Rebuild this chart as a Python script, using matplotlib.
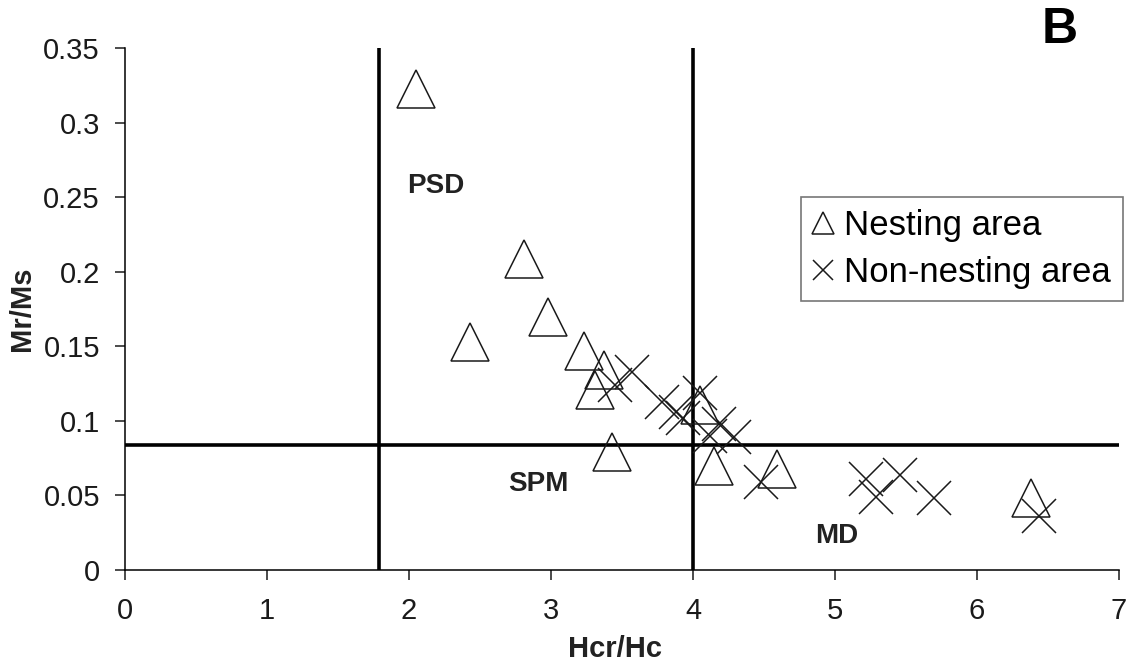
import matplotlib
matplotlib.use("Agg")
import matplotlib.pyplot as plt

# ---- data ----
nest_x = [2.05, 2.81, 2.98, 2.43, 3.23, 3.37, 3.31, 3.43, 4.05, 4.15, 4.59, 6.38]
nest_y = [0.323, 0.209, 0.170, 0.153, 0.147, 0.134, 0.121, 0.079, 0.111, 0.070, 0.068, 0.048]

non_x = [3.45, 3.57, 3.78, 3.88, 3.93, 4.05, 4.12, 4.18, 4.29, 4.48, 5.22, 5.29, 5.46, 5.70, 6.44]
non_y = [0.124, 0.133, 0.113, 0.106, 0.102, 0.119, 0.090, 0.098, 0.089, 0.059, 0.061, 0.049, 0.064, 0.048, 0.036]

psd_limit_x = 1.79
md_limit_x = 4.0
mrms_limit_y = 0.084

x_ticks = [0, 1, 2, 3, 4, 5, 6, 7]
y_ticks = [0, 0.05, 0.1, 0.15, 0.2, 0.25, 0.3, 0.35]
y_tick_labels = ["0", "0.05", "0.1", "0.15", "0.2", "0.25", "0.3", "0.35"]

region_labels = ["PSD", "SPM", "MD"]
region_x = [2.19, 2.91, 5.01]
region_y = [0.258, 0.058, 0.023]

plt.rcParams['font.family'] = ['Liberation Sans', 'DejaVu Sans']

fig = plt.figure(figsize=(11.31, 6.64), dpi=100)
ax = fig.add_axes([0.1105, 0.1416, 0.8789, 0.7854])

ax.set_xlim(0, 7)
ax.set_ylim(0, 0.35)

# divider lines
ax.axvline(psd_limit_x, color='black', lw=2.6, zorder=1)
ax.axvline(md_limit_x, color='black', lw=2.6, zorder=1)
ax.axhline(mrms_limit_y, color='black', lw=2.6, zorder=1)

ax.plot(nest_x, nest_y, linestyle='none', marker='^', markersize=27,
        markerfacecolor='none', markeredgecolor='#1a1a1a', markeredgewidth=1.1,
        label='Nesting area', zorder=3)
ax.plot(non_x, non_y, linestyle='none', marker='x', markersize=24,
        markeredgecolor='#1a1a1a', markeredgewidth=1.1,
        label='Non-nesting area', zorder=3)

for lab, lx, ly in zip(region_labels, region_x, region_y):
    ax.text(lx, ly, lab, ha='center', va='center', fontsize=20,
            fontweight='bold', color='#222222')

ax.set_xticks(x_ticks)
ax.set_xticklabels([str(t) for t in x_ticks])
ax.set_yticks(y_ticks)
ax.set_yticklabels(y_tick_labels)
ax.tick_params(axis='both', direction='out', length=7.5, width=1.1,
               labelsize=21, colors='#1a1a1a')
ax.tick_params(axis='y', pad=10.5)
ax.tick_params(axis='x', pad=12)

for s in ['top', 'right']:
    ax.spines[s].set_visible(False)
for s in ['left', 'bottom']:
    ax.spines[s].set_linewidth(1.1)

ax.set_xlabel('Hcr/Hc', fontsize=21, fontweight='bold', color='#222222')
ax.xaxis.set_label_coords(0.493, -0.125)
ax.set_ylabel('Mr/Ms', fontsize=21, fontweight='bold', color='#222222')
ax.yaxis.set_label_coords(-0.09, 0.5)

leg = ax.legend(loc='upper left', bbox_to_anchor=(0.680, 0.715),
                fontsize=25, frameon=True, fancybox=False, markerscale=0.6,
                handlelength=0.6, handletextpad=0.3, borderpad=0.35,
                labelspacing=0.4, borderaxespad=0)
leg.get_frame().set_edgecolor('#555555')
leg.get_frame().set_linewidth(1.2)

fig.text(0.937, 0.955, 'B', fontsize=36, fontweight='bold', ha='center', va='center')

fig.savefig('out.png', dpi=100)
